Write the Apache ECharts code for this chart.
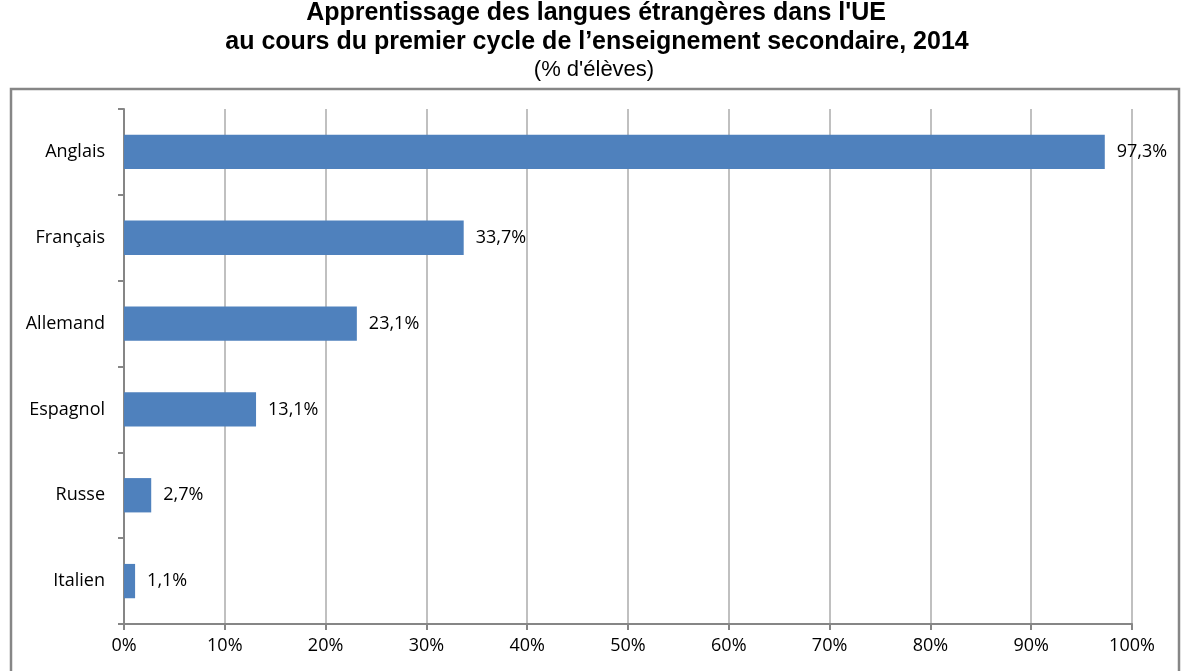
<!DOCTYPE html>
<html><head><meta charset="utf-8">
<script src="https://cdn.jsdelivr.net/npm/echarts@6/dist/echarts.min.js"></script>
<style>html,body{margin:0;padding:0;background:#fff}#c{width:1192px;height:671px}</style>
</head><body><div id="c"></div>
<script>
const categories = ['Anglais','Français','Allemand','Espagnol','Russe','Italien'];
const values = [97.3, 33.7, 23.1, 13.1, 2.7, 1.1];
const tickLabels = ['0%','10%','20%','30%','40%','50%','60%','70%','80%','90%','100%'];

const chart = echarts.init(document.getElementById('c'));
const labelFont = 'Open Sans, Liberation Sans, sans-serif';
const titleFont = '"Liberation Sans", Arial, sans-serif';
chart.setOption({
  animation: false,
  backgroundColor: '#fff',
  graphic: [
    {type:'rect', shape:{x:11, y:89, width:1168, height:620}, style:{fill:'none', stroke:'#868686', lineWidth:2.5}, z:0},
    {type:'text', x:596, y:13, style:{text:"Apprentissage des langues étrangères dans l'UE", font:'bold 25px ' + titleFont, fill:'#000', textAlign:'center', textVerticalAlign:'middle'}},
    {type:'text', x:597, y:42, style:{text:"au cours du premier cycle de l’enseignement secondaire, 2014", font:'bold 25px ' + titleFont, fill:'#000', textAlign:'center', textVerticalAlign:'middle'}},
    {type:'text', x:594, y:70, style:{text:"(% d'élèves)", font:'22px ' + titleFont, fill:'#000', textAlign:'center', textVerticalAlign:'middle'}}
  ],
  grid: {left:124, right:60, top:109, bottom:47, containLabel:false},
  xAxis: {
    type:'value', min:0, max:100, interval:10,
    axisLine:{show:true, lineStyle:{color:'#868686', width:2}},
    axisTick:{show:true, length:6, lineStyle:{color:'#868686', width:2}},
    splitLine:{show:true, lineStyle:{color:'#c0c0c0', width:2}},
    axisLabel:{color:'#000', fontSize:18, fontFamily:labelFont, margin:13,
      formatter: v => tickLabels[Math.round(v/10)]}
  },
  yAxis: {
    type:'category', data:categories, inverse:true,
    axisLine:{show:true, lineStyle:{color:'#868686', width:2}},
    axisTick:{show:true, length:6, lineStyle:{color:'#868686', width:2}},
    axisLabel:{color:'#000', fontSize:18, fontFamily:labelFont, margin:19}
  },
  series: [{
    type:'bar', data:values, barWidth:'40%',
    itemStyle:{color:'#4f81bd'},
    label:{show:true, position:'right', distance:12, color:'#000', fontSize:18, fontFamily:labelFont,
      formatter: p => p.value.toFixed(1).replace('.', ',') + '%'}
  }]
});
</script></body></html>
